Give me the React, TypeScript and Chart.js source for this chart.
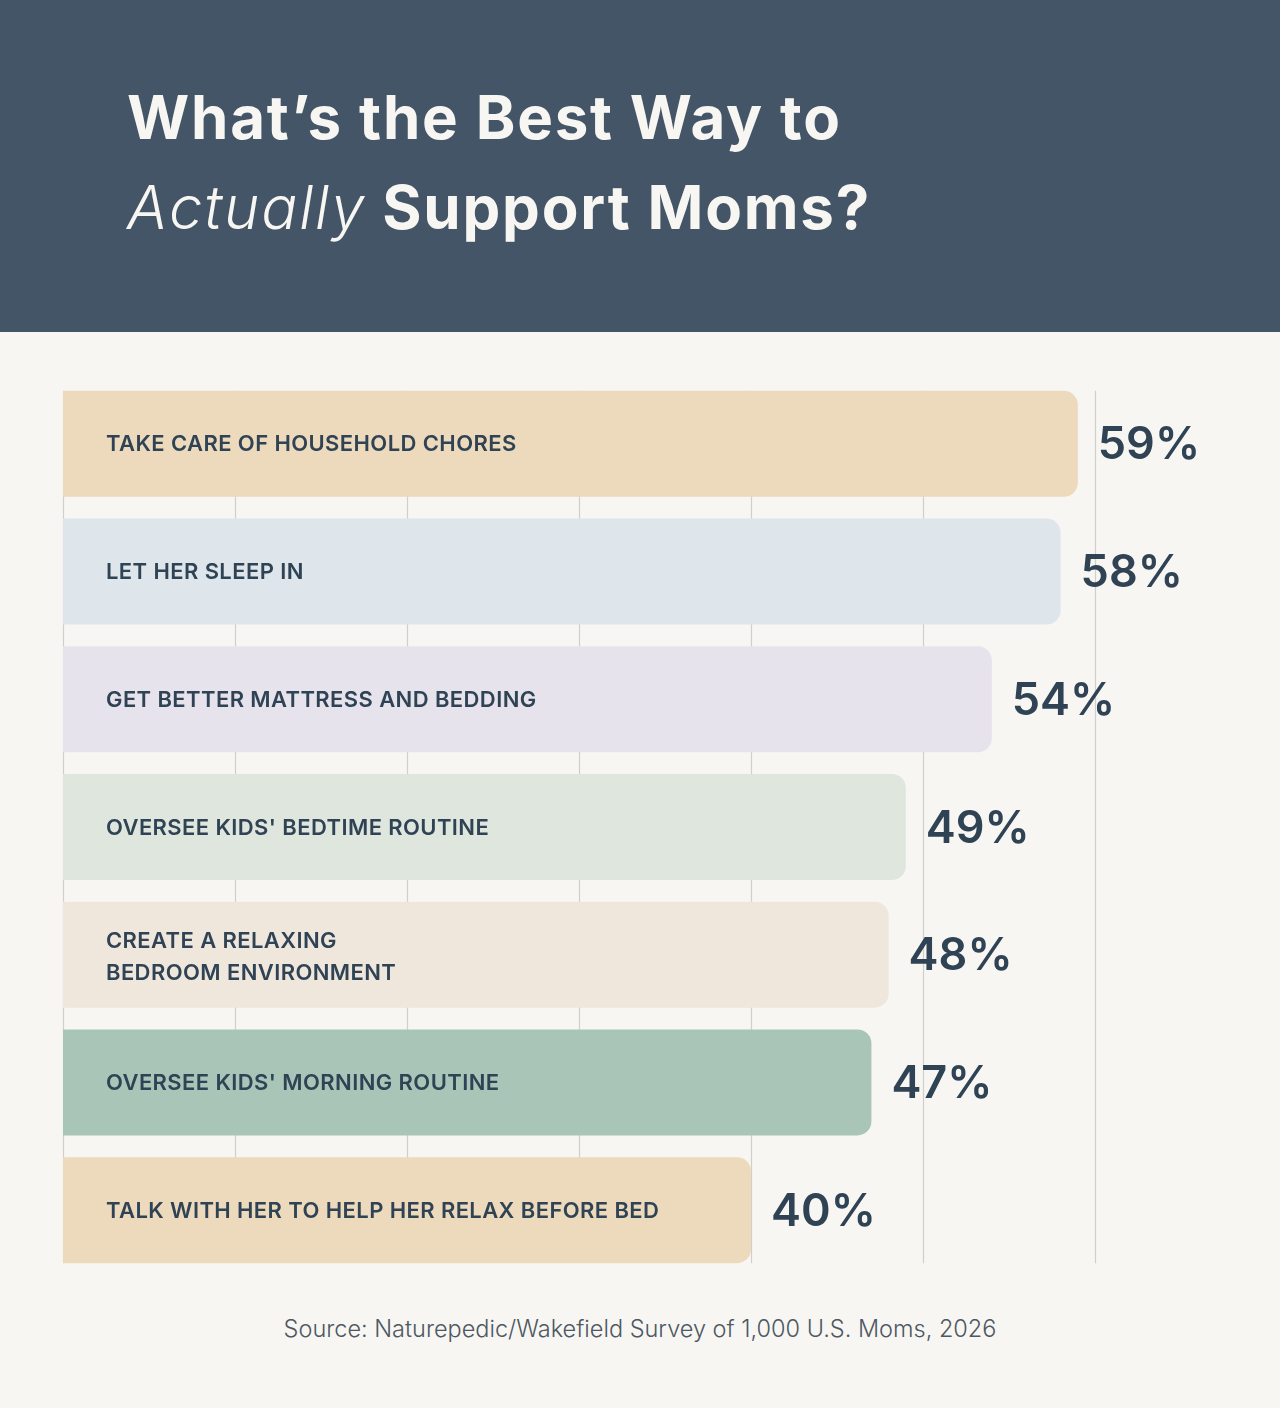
import React, { useEffect, useRef } from 'react';
import { Chart, registerables } from 'chart.js';

Chart.register(...registerables);

// Survey answers (category labels, split into lines as drawn inside the bars)
const categories: string[][] = [
  ['TAKE CARE OF HOUSEHOLD CHORES'],
  ['LET HER SLEEP IN'],
  ['GET BETTER MATTRESS AND BEDDING'],
  ["OVERSEE KIDS' BEDTIME ROUTINE"],
  ['CREATE A RELAXING', 'BEDROOM ENVIRONMENT'],
  ["OVERSEE KIDS' MORNING ROUTINE"],
  ['TALK WITH HER TO HELP HER RELAX BEFORE BED'],
];
const values: number[] = [59, 58, 54, 49, 48, 47, 40];
const barColors: string[] = ['#edd9bc', '#dee6ec', '#e7e3ec', '#dfe6de', '#efe6dc', '#a9c5b7', '#edd9bc'];
const gridTicks: number[] = [0, 10, 20, 30, 40, 50, 60];

const TEXT_DARK = '#2f4354';

// vertical grid lines, only between top of first bar and bottom of last bar
const gridPlugin = {
  id: 'barGrid',
  beforeDatasetsDraw(chart: any) {
    const { ctx } = chart;
    const xScale = chart.scales.x;
    const bars = chart.getDatasetMeta(0).data;
    if (!bars.length) return;
    const first = bars[0] as any;
    const last = bars[bars.length - 1] as any;
    const top = first.y - first.height / 2;
    const bottom = last.y + last.height / 2;
    ctx.save();
    ctx.strokeStyle = '#cfcfcc';
    ctx.lineWidth = 1.2;
    gridTicks.forEach((t) => {
      const x = Math.round(xScale.getPixelForValue(t)) + 0.5;
      ctx.beginPath();
      ctx.moveTo(x, top);
      ctx.lineTo(x, bottom);
      ctx.stroke();
    });
    ctx.restore();
  },
};

// text inside the bars and percentages after them
const labelPlugin = {
  id: 'barLabels',
  afterDatasetsDraw(chart: any) {
    const { ctx } = chart;
    const xScale = chart.scales.x;
    const bars = chart.getDatasetMeta(0).data;
    ctx.save();
    ctx.fillStyle = TEXT_DARK;
    ctx.textBaseline = 'middle';
    bars.forEach((bar: any, i: number) => {
      const lines = categories[i];
      ctx.font = '600 22px Inter, "Noto Sans", sans-serif';
      ctx.letterSpacing = '0.4px';
      ctx.textAlign = 'left';
      const lineH = 32;
      const startY = bar.y - ((lines.length - 1) * lineH) / 2 + (lines.length > 1 ? 2 : 0);
      lines.forEach((ln, j) => {
        ctx.fillText(ln, xScale.left + 43, startY + j * lineH + 1);
      });
      ctx.font = '600 45px Inter, "Noto Sans", sans-serif';
      ctx.letterSpacing = '0px';
      ctx.fillText(values[i] + '%', bar.x + 20, bar.y + 2);
    });
    ctx.restore();
  },
};

const App: React.FC = () => {
  const canvasRef = useRef<HTMLCanvasElement>(null);
  const chartRef = useRef<Chart<'bar'> | null>(null);

  useEffect(() => {
    document.body.style.margin = '0';
    if (!canvasRef.current) return;
    chartRef.current = new Chart(canvasRef.current, {
      type: 'bar',
      data: {
        labels: categories.map((c) => c.join(' ')),
        datasets: [
          {
            data: values,
            backgroundColor: barColors,
            borderRadius: { topLeft: 0, bottomLeft: 0, topRight: 14, bottomRight: 14 },
            borderSkipped: false,
            barPercentage: 0.83,
            categoryPercentage: 1,
          },
        ],
      },
      options: {
        indexAxis: 'y',
        animation: false,
        responsive: true,
        maintainAspectRatio: false,
        layout: { padding: { left: 63, right: 185, top: 48, bottom: 18 } },
        plugins: { legend: { display: false }, tooltip: { enabled: false } },
        scales: {
          x: { display: false, min: 0, max: 60 },
          y: { display: false },
        },
      },
      plugins: [gridPlugin, labelPlugin],
    });
    return () => {
      chartRef.current?.destroy();
    };
  }, []);

  return (
    <div style={{ position: 'relative', width: 1280, height: 1408, background: '#f8f6f2', overflow: 'hidden' }}>
      {/* header */}
      <div style={{ position: 'absolute', left: 0, top: 0, width: 1280, height: 332, background: '#435566' }}>
        <div
          style={{
            position: 'absolute',
            left: 127,
            top: 72,
            color: '#f8f6f2',
            fontFamily: 'Inter, "Noto Sans", sans-serif',
            fontSize: 60,
            fontWeight: 700,
            lineHeight: '90px',
            letterSpacing: '1.8px',
            whiteSpace: 'nowrap',
          }}
        >
          <div>What’s the Best Way to</div>
          <div>
            <span style={{ fontStyle: 'italic', fontWeight: 300 }}>Actually</span> Support Moms?
          </div>
        </div>
      </div>

      {/* chart */}
      <div style={{ position: 'absolute', left: 0, top: 332, width: 1280, height: 960 }}>
        <canvas ref={canvasRef}></canvas>
      </div>

      {/* source */}
      <div
        style={{
          position: 'absolute',
          left: 0,
          top: 1313,
          width: 1280,
          textAlign: 'center',
          color: '#4d5862',
          fontFamily: 'Inter, "Noto Sans", sans-serif',
          fontSize: 23.5,
          fontWeight: 300,
          lineHeight: '32px',
        }}
      >
        Source: Naturepedic/Wakefield Survey of 1,000 U.S. Moms, 2026
      </div>
    </div>
  );
};

export default App;
